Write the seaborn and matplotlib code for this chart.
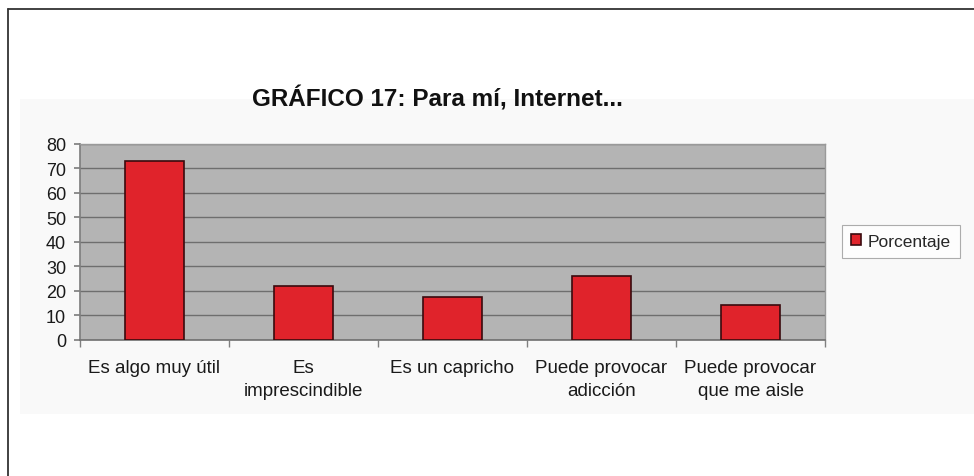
import matplotlib
matplotlib.use("Agg")
import matplotlib.pyplot as plt
import seaborn as sns
import numpy as np
from matplotlib.lines import Line2D
from matplotlib.patches import Rectangle

categories = ["Es algo muy útil", "Es\nimprescindible", "Es un capricho",
              "Puede provocar\nadicción", "Puede provocar\nque me aisle"]
values = [73, 22, 17.5, 26, 14]
series_name = "Porcentaje"
yticks = [0, 10, 20, 30, 40, 50, 60, 70, 80]
title = "GRÁFICO 17: Para mí, Internet..."

sns.set_theme(style="white")
plt.rcParams["font.family"] = ["Liberation Sans", "DejaVu Sans"]

fig = plt.figure(figsize=(9.74, 4.77), dpi=100)
fig.patch.set_facecolor("white")

# chart area light background
bg = Rectangle((20/974, 1-415/477), (974-20)/974, (415-100)/477,
               transform=fig.transFigure, facecolor="#f9f9f9",
               edgecolor="none", zorder=-10)
fig.add_artist(bg)
# page border lines
fig.add_artist(Line2D([8/974, 1], [1-10/477, 1-10/477], transform=fig.transFigure,
                      color="#333333", lw=1.3, zorder=-5))
fig.add_artist(Line2D([8/974, 8/974], [0, 1-10/477], transform=fig.transFigure,
                      color="#333333", lw=1.3, zorder=-5))

ax = fig.add_axes([80/974, 1-340.5/477, (825-80)/974, (340.5-145)/477])
sns.barplot(x=categories, y=values, ax=ax, color="#e0232b", width=0.4,
            edgecolor="#3a0a0e", linewidth=1.2, saturation=1, label=series_name, zorder=3)
ax.set_facecolor("#b4b4b4")
ax.set_ylim(0, 80)
ax.set_xlim(-0.5, len(categories) - 0.5)
ax.set_yticks(yticks)
ax.yaxis.grid(True, color="#6e6e6e", lw=1.0, zorder=1)
ax.set_axisbelow(True)
for s in ["top", "right"]:
    ax.spines[s].set_color("#9a9a9a")
    ax.spines[s].set_linewidth(1)
ax.spines["left"].set_color("#808080")
ax.spines["bottom"].set_color("#707070")
ax.spines["bottom"].set_linewidth(1.2)
ax.tick_params(axis="y", labelsize=13, length=4, left=True, color="#808080",
               labelcolor="#1a1a1a", pad=6)
ax.tick_params(axis="x", labelsize=13.5, length=0, labelcolor="#1a1a1a", pad=14)
for lbl in ax.get_xticklabels():
    lbl.set_linespacing(1.45)
ax.set_xticks(np.arange(-0.5, len(categories), 1.0), minor=True)
ax.tick_params(axis="x", which="minor", length=5, bottom=True, color="#808080")
ax.set_xlabel("")
ax.set_ylabel("")

fig.text(437/974, 1-99/477, title, ha="center", va="center", fontsize=17.5,
         fontweight="bold", color="#111111")

leg = ax.legend(loc="center left", bbox_to_anchor=(842/974, 1-242.5/477),
                bbox_transform=fig.transFigure, frameon=True, fontsize=12.5,
                handlelength=0.6, handleheight=0.6, handletextpad=0.4,
                borderpad=0.5, borderaxespad=0, fancybox=False)
leg.get_frame().set_edgecolor("#999999")
leg.get_frame().set_linewidth(0.8)

fig.savefig("out.png", dpi=100, facecolor="white")
